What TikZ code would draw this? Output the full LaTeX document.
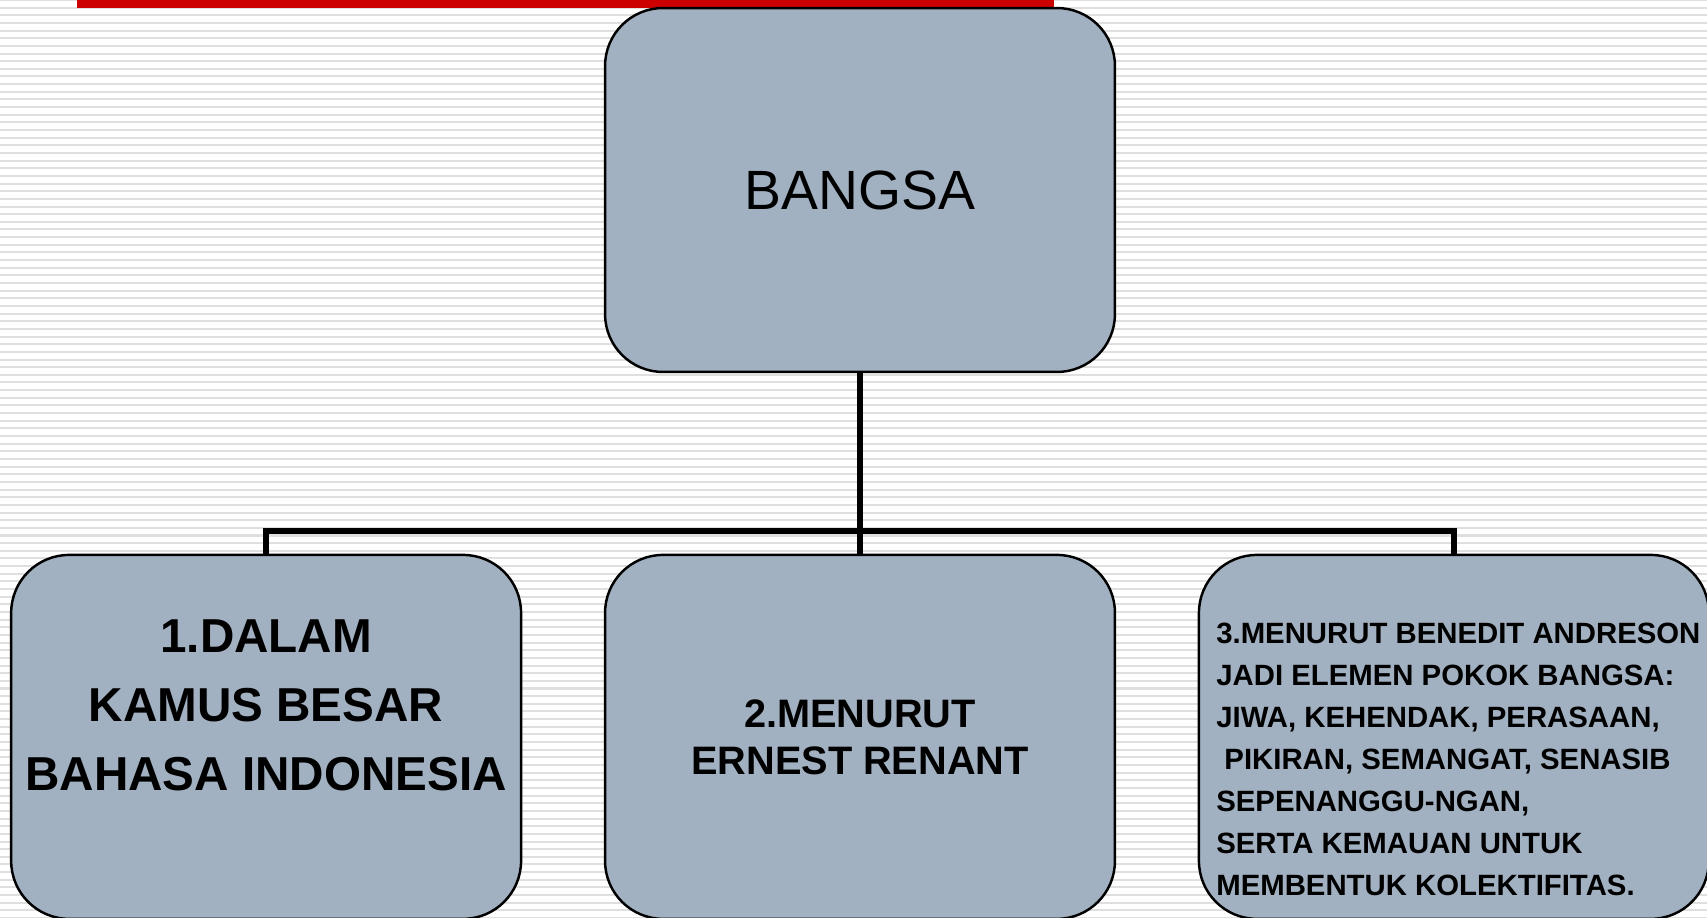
\documentclass[tikz,border=0pt]{standalone}
\usepackage{fontspec}
\setmainfont{Liberation Sans}
\usetikzlibrary{positioning}
\definecolor{kotakabu}{RGB}{162,177,193}
\definecolor{merahbar}{RGB}{204,0,0}
\definecolor{garisbg}{RGB}{223,223,223}

\begin{document}
\begin{tikzpicture}[
    x=0.02cm, y=-0.02cm,
    node distance=3.66cm and 1.68cm,
    kotak/.style={rectangle, draw, line width=1.4pt, rounded corners=1.16cm, fill=kotakabu, minimum width=10.2cm, minimum height=7.28cm, align=center, inner sep=0pt, outer sep=0pt},
    cabang/.style={line width=3.3pt},
    teks/.style={inner sep=0pt}
]

% Background stripes
\useasboundingbox (0,0) rectangle (1707,918);
\foreach \k in {0,...,120}
  \draw[garisbg, line width=1.14pt] (0,{\k*7.65}) -- (1707,{\k*7.65});
\fill[merahbar] (77,0) rectangle (1054,8);

% Top box
\node[kotak, font=\fontsize{31.5}{38}\selectfont] (bangsa) at (860,190) {BANGSA};

% Bottom boxes
\node[kotak, below=of bangsa, font=\fontsize{22.6}{26.7}\selectfont\bfseries] (renant) {2.MENURUT\\ERNEST RENANT};
\node[kotak, left=of renant] (kbbi) {};
\node[kotak, right=of renant] (andreson) {};

\node[teks, align=center, font=\fontsize{27.1}{39.3}\selectfont\bfseries] (kbbiteks) at ([yshift=0.63cm]kbbi.center) {1.DALAM\\KAMUS BESAR\\BAHASA INDONESIA};
\node[teks, align=left, font=\fontsize{16.7}{23.9}\selectfont\bfseries] (andresonteks) at ([xshift=0.09cm, yshift=-0.45cm]andreson.center) {3.MENURUT BENEDIT ANDRESON\\JADI ELEMEN POKOK BANGSA:\\JIWA, KEHENDAK, PERASAAN,\\\ PIKIRAN, SEMANGAT, SENASIB\\SEPENANGGU-NGAN,\\SERTA KEMAUAN UNTUK\\MEMBENTUK KOLEKTIFITAS.};

% Connectors
\coordinate[above=0.48cm of renant.north] (simpang);
\draw[cabang] (bangsa) -- (renant);
\draw[cabang] (kbbi) |- (simpang) -| (andreson);

\end{tikzpicture}
\end{document}
